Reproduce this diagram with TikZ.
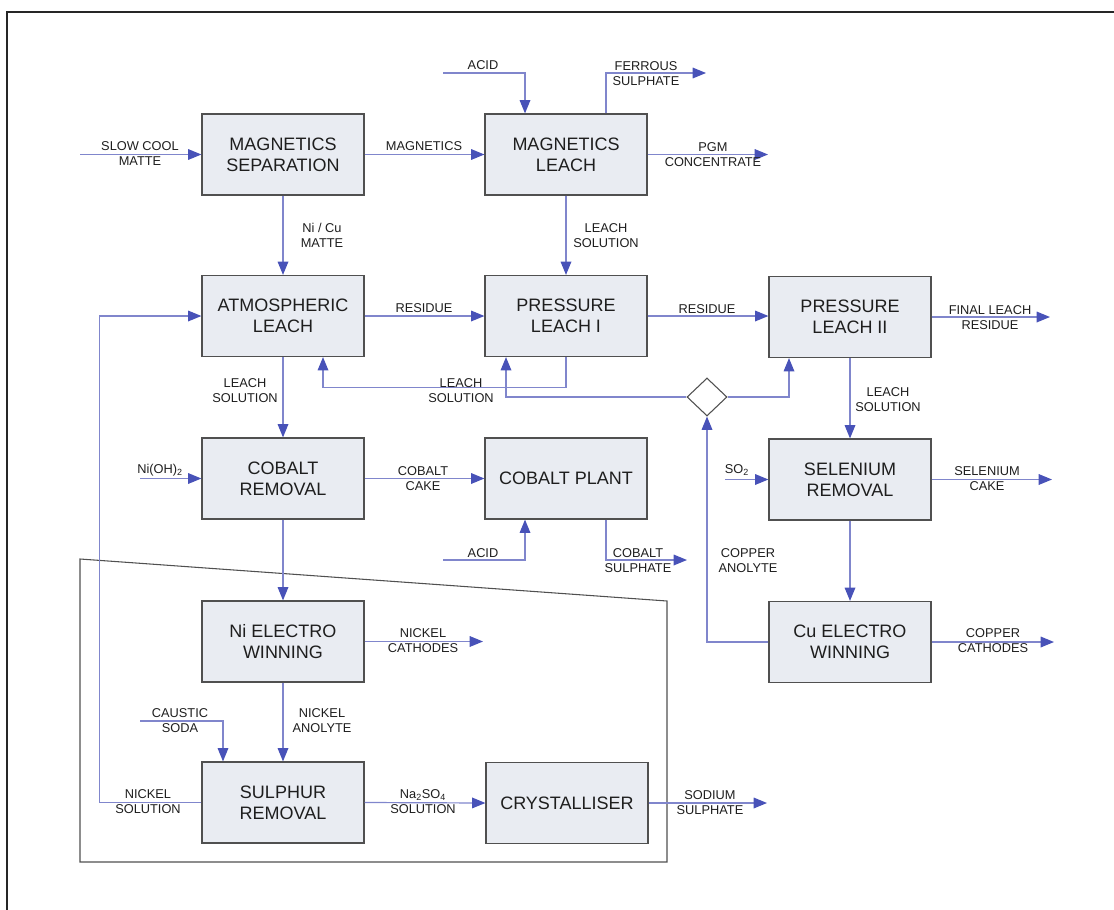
\documentclass[tikz,border=0pt]{standalone}
\usepackage{fontspec}
\setmainfont{Liberation Sans}
\usetikzlibrary{arrows.meta,shapes.geometric}
\definecolor{flow}{RGB}{128,134,204}
\definecolor{head}{RGB}{72,82,184}
\definecolor{boxfill}{RGB}{233,236,242}
\definecolor{boxline}{RGB}{80,80,80}
\definecolor{ink}{RGB}{30,30,30}
\begin{document}
\begin{tikzpicture}[x=0.75pt,y=-0.75pt,
 unitbox/.style={draw=boxline,fill=boxfill,line width=0.9pt,minimum width=121.5pt,minimum height=60.75pt,inner sep=0pt,align=center,font=\fontsize{13.5}{15.75}\selectfont,text=ink},
 lbl/.style={align=center,font=\fontsize{9.6}{11.3}\selectfont,text=ink,inner sep=0pt},
 flowline/.style={draw=flow,line width=0.9pt},
 flowarrow/.style={flowline,-{Triangle[length=10pt,width=8pt,color=head]}},
 framel/.style={draw=boxline,line width=0.8pt},
]
\useasboundingbox (0,0) rectangle (1114,910);
% outer frame
\draw[line width=1.1pt,draw=black!85] (7,910) -- (7,12) -- (1114,12);
% inner frame
\draw[framel] (80,559) -- (667,601) -- (667,862) -- (80,862) -- cycle;

% boxes
\node[unitbox] (ms) at (283,154.5) {MAGNETICS\\SEPARATION};
\node[unitbox] (ml) at (566,154.5) {MAGNETICS\\LEACH};
\node[unitbox] (al) at (283,316) {ATMOSPHERIC\\LEACH};
\node[unitbox] (pl1) at (566,316) {PRESSURE\\LEACH I};
\node[unitbox] (pl2) at (850,317) {PRESSURE\\LEACH II};
\node[unitbox] (cr) at (283,478.5) {COBALT\\REMOVAL};
\node[unitbox] (cp) at (566,478.5) {COBALT PLANT};
\node[unitbox] (sr) at (850,479.5) {SELENIUM\\REMOVAL};
\node[unitbox] (niew) at (283,641.5) {Ni ELECTRO\\WINNING};
\node[unitbox] (cuew) at (850,642) {Cu ELECTRO\\WINNING};
\node[unitbox] (sulr) at (283,802.5) {SULPHUR\\REMOVAL};
\node[unitbox] (cry) at (567,803) {CRYSTALLISER};
\node[draw=boxline,fill=white,line width=0.8pt,shape=diamond,minimum width=30pt,minimum height=28.5pt,inner sep=0pt] (dm) at (707,397) {};

% free ends
\coordinate (scm) at (80,154.5);
\coordinate (acidA) at (443,73);
\coordinate (fso) at (706,73);
\coordinate (pgm) at (768,154.5);
\coordinate (flr) at (1050,317);
\coordinate (soin) at (725,479.5);
\coordinate (sec) at (1052,479.5);
\coordinate (nioh) at (140,478.5);
\coordinate (acidB) at (443,560);
\coordinate (cso) at (687,560);
\coordinate (cuc) at (1054,642);
\coordinate (nic) at (483,641.5);
\coordinate (caus) at (140,721);
\coordinate (sso) at (767,803);

% connectors
\draw[flowarrow] (scm) -- (ms.west);
\draw[flowarrow] (ms.east) -- (ml.west);
\draw[flowarrow] (acidA) -| ([xshift=-30.75pt]ml.north);
\draw[flowarrow] ([xshift=30pt]ml.north) |- (fso);
\draw[flowarrow] (ml.east) -- (pgm);
\draw[flowarrow] (ms.south) -- (al.north);
\draw[flowarrow] (ml.south) -- (pl1.north);
\draw[flowarrow] (al.east) -- (pl1.west);
\draw[flowarrow] (pl1.east) -- (pl1.east -| pl2.west);
\draw[flowarrow] (pl2.east) -- (flr);
\draw[flowarrow] (pl1.south) -- ++(0,30) -| ([xshift=30pt]al.south);
\draw[flowarrow] (al.south) -- (cr.north);
\draw[flowarrow] (dm.west) -| ([xshift=-45pt]pl1.south);
\draw[flowarrow] (dm.east) -| ([xshift=-45.75pt]pl2.south);
\draw[flowarrow] (pl2.south) -- (sr.north);
\draw[flowarrow] (soin) -- (sr.west);
\draw[flowarrow] (sr.east) -- (sec);
\draw[flowarrow] (nioh) -- (cr.west);
\draw[flowarrow] (cr.east) -- (cp.west);
\draw[flowarrow] (acidB) -| ([xshift=-30.75pt]cp.south);
\draw[flowarrow] ([xshift=30pt]cp.south) |- (cso);
\draw[flowarrow] (sr.south) -- (cuew.north);
\draw[flowarrow] (cuew.west) -| (dm.south);
\draw[flowarrow] (cuew.east) -- (cuc);
\draw[flowarrow] (cr.south) -- (niew.north);
\draw[flowarrow] (niew.east) -- (nic);
\draw[flowarrow] (caus) -| ([xshift=-45pt]sulr.north);
\draw[flowarrow] (niew.south) -- (sulr.north);
\draw[flowarrow] (sulr.west) -- ++(-102,0) |- (al.west);
\draw[flowarrow] (sulr.east) -- (cry.west);
\draw[flowarrow] (cry.east) -- (sso);

% labels
\node[lbl] (l1) at (140,153.5) {SLOW COOL\\MATTE};
\node[lbl] (l2) at (424,146) {MAGNETICS};
\node[lbl] (l3) at (483,65) {ACID};
\node[lbl] (l4) at (646,73.5) {FERROUS\\SULPHATE};
\node[lbl] (l5) at (713,154.5) {PGM\\CONCENTRATE};
\node[lbl] (l6) at (322,235.5) {Ni / Cu\\MATTE};
\node[lbl] (l7) at (606,235.5) {LEACH\\SOLUTION};
\node[lbl] (l8) at (424,308) {RESIDUE};
\node[lbl] (l9) at (707,309) {RESIDUE};
\node[lbl] (l10) at (990,318) {FINAL LEACH\\RESIDUE};
\node[lbl] (l11) at (461,391) {LEACH\\SOLUTION};
\node[lbl] (l12) at (245,390.5) {LEACH\\SOLUTION};
\node[lbl] (l13) at (888,399.5) {LEACH\\SOLUTION};
\node[lbl] (l14) at (737,470) {SO\textsubscript{2}};
\node[lbl] (l15) at (987,478.5) {SELENIUM\\CAKE};
\node[lbl] (l16) at (160,470) {Ni(OH)\textsubscript{2}};
\node[lbl] (l17) at (423,478.5) {COBALT\\CAKE};
\node[lbl] (l18) at (483,553) {ACID};
\node[lbl] (l19) at (638,561) {COBALT\\SULPHATE};
\node[lbl] (l20) at (748,561) {COPPER\\ANOLYTE};
\node[lbl] (l21) at (993,641) {COPPER\\CATHODES};
\node[lbl] (l22) at (423,640.5) {NICKEL\\CATHODES};
\node[lbl] (l23) at (180,721) {CAUSTIC\\SODA};
\node[lbl] (l24) at (322,721) {NICKEL\\ANOLYTE};
\node[lbl] (l25) at (148,801.5) {NICKEL\\SOLUTION};
\node[lbl] (l26) at (423,802) {Na\textsubscript{2}SO\textsubscript{4}\\SOLUTION};
\node[lbl] (l27) at (710,803) {SODIUM\\SULPHATE};
\end{tikzpicture}
\end{document}
